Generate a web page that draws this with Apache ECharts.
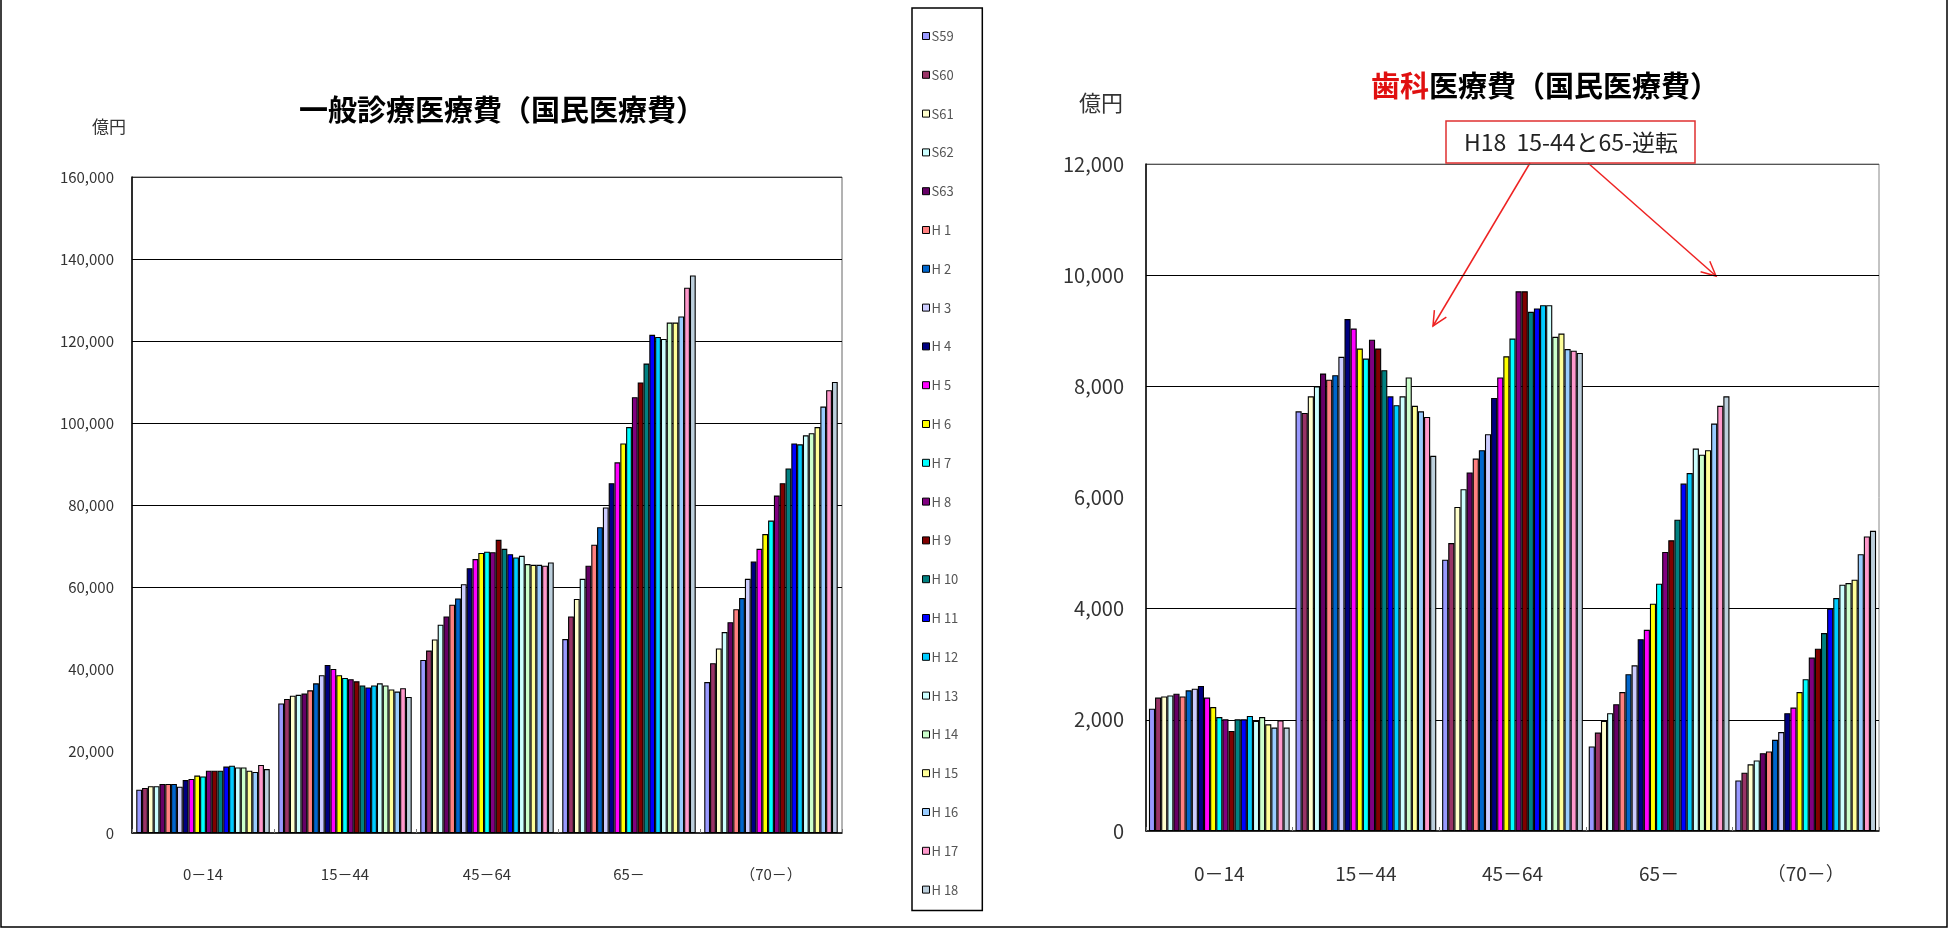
<!DOCTYPE html>
<html>
<head>
<meta charset="utf-8">
<script src="https://cdn.jsdelivr.net/npm/echarts@6/dist/echarts.min.js"></script>
<style>
  html, body { margin: 0; padding: 0; background: #fff; }
  #chart { width: 1950px; height: 949px; }
</style>
</head>
<body>
<div id="chart"></div>
<script>
// Age groups on the category axis
const ageGroups = ['0－14', '15－44', '45－64', '65－', '（70－）'];

// Fiscal years S59 (1984) .. H18 (2006), one bar per year in each group
const years = ['S59', 'S60', 'S61', 'S62', 'S63', 'H 1', 'H 2', 'H 3', 'H 4', 'H 5', 'H 6', 'H 7',
               'H 8', 'H 9', 'H 10', 'H 11', 'H 12', 'H 13', 'H 14', 'H 15', 'H 16', 'H 17', 'H 18'];

// Bar fill for each year
const yearColors = ['#9999FF', '#993366', '#FFFFCC', '#CCFFFF', '#660066', '#FF8080', '#0066CC', '#CCCCFF',
                    '#000080', '#FF00FF', '#FFFF00', '#00FFFF', '#800080', '#800000', '#008080', '#0000FF',
                    '#00CCFF', '#CCFFFF', '#CCFFCC', '#FFFF99', '#99CCFF', '#FF99CC', '#BCCFDC'];

// 一般診療医療費 (億円), S59..H18, per age group
const general0to14  = [10560, 11000, 11400, 11400, 11960, 11960, 11960, 11300, 12900, 13200, 14000, 13800,
                       15200, 15200, 15200, 16200, 16400, 16000, 16000, 15200, 14900, 16600, 15600];
const general15to44 = [31600, 32700, 33500, 33700, 34000, 34800, 36500, 38500, 41000, 40000, 38500, 37800,
                       37500, 37000, 36000, 35500, 36000, 36500, 36000, 35000, 34500, 35300, 33200];
const general45to64 = [42200, 44500, 47200, 50800, 52800, 55700, 57200, 60700, 64600, 66800, 68300, 68600,
                       68500, 71500, 69300, 68000, 67200, 67600, 65600, 65400, 65400, 65200, 66000];
const general65up   = [47300, 52800, 57100, 62000, 65200, 70300, 74600, 79400, 85300, 90400, 95000, 99000,
                       106300, 109900, 114500, 121500, 121000, 120500, 124500, 124500, 126000, 133000, 136000];
const general70up   = [36800, 41400, 45000, 49000, 51400, 54600, 57300, 62000, 66200, 69300, 72900, 76200,
                       82300, 85300, 88900, 95000, 94800, 97000, 97500, 99000, 104000, 108000, 110000];

// 歯科医療費 (億円), S59..H18, per age group
const dental0to14  = [2200, 2400, 2420, 2440, 2470, 2420, 2530, 2560, 2610, 2400, 2230, 2050,
                      2010, 1800, 2010, 2010, 2070, 1980, 2050, 1920, 1860, 1990, 1860];
const dental15to44 = [7550, 7520, 7820, 8000, 8230, 8120, 8200, 8530, 9210, 9040, 8680, 8500,
                      8840, 8680, 8290, 7820, 7660, 7820, 8160, 7650, 7550, 7450, 6750];
const dental45to64 = [4880, 5180, 5830, 6150, 6450, 6700, 6850, 7140, 7790, 8160, 8540, 8860,
                      9710, 9710, 9340, 9400, 9460, 9460, 8890, 8950, 8670, 8640, 8600];
const dental65up   = [1520, 1770, 1980, 2120, 2280, 2500, 2820, 2980, 3450, 3620, 4090, 4450,
                      5020, 5230, 5600, 6250, 6440, 6880, 6770, 6850, 7330, 7650, 7820];
const dental70up   = [910, 1050, 1200, 1270, 1400, 1430, 1640, 1780, 2120, 2220, 2500, 2730,
                      3120, 3280, 3560, 4000, 4190, 4430, 4460, 4520, 4980, 5300, 5400];

// Tick labels of the two value axes
const generalTicks = [0, 20000, 40000, 60000, 80000, 100000, 120000, 140000, 160000];
const dentalTicks  = [0, 2000, 4000, 6000, 8000, 10000, 12000];

const generalGroups = [general0to14, general15to44, general45to64, general65up, general70up];
const dentalGroups  = [dental0to14, dental15to44, dental45to64, dental65up, dental70up];

const FONT = '"Noto Sans CJK JP", "Noto Sans", sans-serif';
const CLEAR = 'rgba(0,0,0,0)';

const chart = echarts.init(document.getElementById('chart'), null, { renderer: 'canvas' });

const series = [];
years.forEach((year, i) => {
  const style = { color: yearColors[i], borderColor: '#000', borderWidth: 1.1 };
  series.push({
    type: 'bar', name: year, xAxisIndex: 0, yAxisIndex: 0,
    data: generalGroups.map(g => g[i]),
    itemStyle: style, barGap: '0%', barCategoryGap: '6%'
  });
  series.push({
    type: 'bar', name: year, xAxisIndex: 1, yAxisIndex: 1,
    data: dentalGroups.map(g => g[i]),
    itemStyle: style, barGap: '0%', barCategoryGap: '4%'
  });
});

// Straight red leader with an open arrowhead at its end
function arrowShapes(x1, y1, x2, y2) {
  const ang = Math.atan2(y2 - y1, x2 - x1);
  const len = 16, spread = 0.45;
  const head = [
    [x2 - len * Math.cos(ang - spread), y2 - len * Math.sin(ang - spread)],
    [x2, y2],
    [x2 - len * Math.cos(ang + spread), y2 - len * Math.sin(ang + spread)]
  ];
  const st = { stroke: '#ee2222', lineWidth: 1.5, fill: null };
  return [
    { type: 'line', shape: { x1, y1, x2, y2 }, style: st, silent: true },
    { type: 'polyline', shape: { points: head }, style: st, silent: true }
  ];
}

function valueAxis(gridIndex, max, interval, lineColors, fontSize, margin) {
  return {
    type: 'value', gridIndex, min: 0, max, interval,
    axisLine: { show: true, lineStyle: { color: '#000', width: 1.5 } },
    axisTick: { show: false },
    axisLabel: {
      fontFamily: FONT, fontSize, color: '#333', margin,
      formatter: v => v.toLocaleString('en-US')
    },
    splitLine: { show: true, lineStyle: { color: lineColors, width: 1.2 } }
  };
}

function categoryAxis(gridIndex, fontSize, margin) {
  return {
    type: 'category', gridIndex, data: ageGroups,
    axisLine: { show: true, lineStyle: { color: '#000', width: 1.5 } },
    axisTick: { show: true, inside: true, length: 4, alignWithLabel: false, lineStyle: { color: '#777' } },
    axisLabel: { fontFamily: FONT, fontSize, color: '#333', margin, interval: 0 }
  };
}

const option = {
  animation: false,
  backgroundColor: '#fff',
  title: [
    {
      text: '一般診療医療費（国民医療費）', left: 497, top: 90, textAlign: 'center',
      textStyle: { fontFamily: FONT, fontSize: 29, fontWeight: 'bold', color: '#000' }
    },
    {
      text: '{r|歯科}{k|医療費（国民医療費）}', left: 1540, top: 66, textAlign: 'center',
      textStyle: {
        fontFamily: FONT, fontSize: 29, fontWeight: 'bold',
        rich: {
          r: { fontFamily: FONT, fontSize: 29, fontWeight: 'bold', color: '#e01010' },
          k: { fontFamily: FONT, fontSize: 29, fontWeight: 'bold', color: '#000' }
        }
      }
    }
  ],
  legend: {
    data: years, orient: 'vertical', left: 912, top: 8,
    icon: 'rect', itemWidth: 7, itemHeight: 7, itemGap: 24.8,
    selectedMode: false,
    padding: [21, 24, 14, 10],
    borderColor: '#000', borderWidth: 1.5,
    itemStyle: { borderColor: '#000', borderWidth: 1 },
    textStyle: { fontFamily: FONT, fontSize: 13, lineHeight: 14, color: '#555', padding: [0, 0, 0, -3] }
  },
  grid: [
    { left: 132, top: 177, width: 710, height: 656, show: true, borderColor: '#666', borderWidth: 1, containLabel: false },
    { left: 1146, top: 164, width: 733, height: 667, show: true, borderColor: '#888', borderWidth: 1, containLabel: false }
  ],
  xAxis: [categoryAxis(0, 15, 34), categoryAxis(1, 19, 33)],
  yAxis: [
    valueAxis(0, generalTicks[generalTicks.length - 1], generalTicks[1],
      [CLEAR, CLEAR, CLEAR, '#000', '#000', '#000', '#000', '#000', '#333'], 15, 18),
    valueAxis(1, dentalTicks[dentalTicks.length - 1], dentalTicks[1],
      [CLEAR, '#000', '#000', CLEAR, '#000', '#000', '#555'], 20, 22)
  ],
  series,
  graphic: [
    { type: 'rect', shape: { x: 1, y: -3, width: 1946, height: 930 },
      style: { fill: null, stroke: '#000', lineWidth: 1.5 }, silent: true },
    { type: 'text', x: 109, y: 127, silent: true,
      style: { text: '億円', fontFamily: FONT, fontSize: 17, fill: '#333', align: 'center', verticalAlign: 'middle' } },
    { type: 'text', x: 1101, y: 103, silent: true,
      style: { text: '億円', fontFamily: FONT, fontSize: 22, fill: '#333', align: 'center', verticalAlign: 'middle' } },
    { type: 'rect', shape: { x: 1446, y: 121, width: 249, height: 42 },
      style: { fill: '#fff', stroke: '#e03030', lineWidth: 1.5 }, silent: true },
    { type: 'text', x: 1571, y: 142, silent: true,
      style: { text: 'H18  15-44と65-逆転', fontFamily: FONT, fontSize: 23, fill: '#222', align: 'center', verticalAlign: 'middle' } },
    ...arrowShapes(1530, 163, 1433, 326),
    ...arrowShapes(1588, 163, 1716, 276)
  ]
};

chart.setOption(option);
</script>
</body>
</html>
